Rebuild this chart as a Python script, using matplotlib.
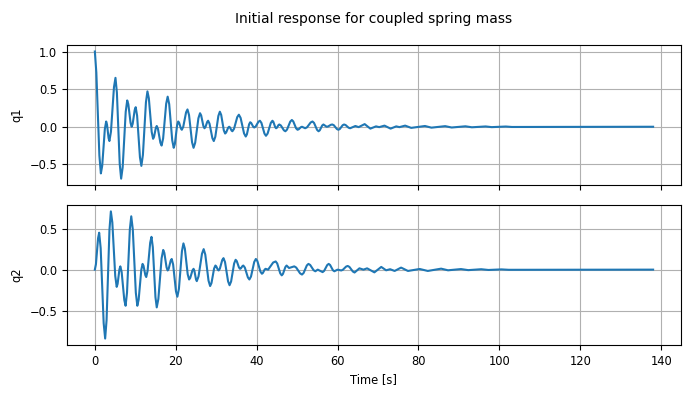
import matplotlib
matplotlib.use("Agg")
import matplotlib.pyplot as plt

# q1 response, values (time [s], value)
t_q1 = [0, 0.37, 1.12, 1.49, 1.82, 2.47, 2.8, 3.0, 3.4, 3.6,
        3.98, 4.73, 5.1, 5.45, 6.15, 6.5, 6.88, 7.63, 8.0, 8.28,
        8.83, 9.1, 9.35, 9.85, 10.1, 10.45, 11.15, 11.5, 11.88, 12.63,
        13.0, 13.35, 14.05, 14.4, 14.63, 15.08, 15.3, 15.6, 16.2, 16.5,
        16.88, 17.63, 18.0, 18.38, 19.13, 19.5, 19.78, 20.33, 20.6, 20.83,
        21.28, 21.5, 21.85, 22.55, 22.9, 23.28, 24.03, 24.4, 24.8, 25.6,
        26.0, 26.28, 26.83, 27.1, 27.33, 27.78, 28.0, 28.35, 29.05, 29.4,
        29.78, 30.53, 30.9, 31.23, 31.88, 32.2, 32.45, 32.95, 33.2, 33.4,
        33.8, 34.0, 34.4, 35.2, 35.6, 36.03, 36.88, 37.3, 37.58, 38.13,
        38.4, 38.65, 39.15, 39.4, 39.75, 40.45, 40.8, 41.18, 41.93, 42.3,
        42.7, 43.5, 43.9, 44.13, 44.58, 44.8, 45.0, 45.4, 45.6, 45.98,
        46.73, 47.1, 47.5, 48.3, 48.7, 49.05, 49.75, 50.1, 50.38, 50.93,
        51.2, 52.0, 52.45, 53.35, 53.8, 54.18, 54.93, 55.3, 55.6, 56.2,
        56.5, 57.3, 57.65, 58.35, 58.7, 59.08, 59.83, 60.2, 60.55, 61.25,
        61.6, 61.98, 62.73, 63.1, 64.4, 65.2, 66.7, 68.1, 69.5, 70.3,
        71.6, 73.1, 74.5, 75.3, 76.7, 78.2, 81.6, 83.2, 86.6, 88.2,
        91.6, 93.2, 96.6, 98.1, 101.6, 103.1, 138.0]
q1 = [1.0, 0.72, -0.383, -0.62, -0.519, -0.031, 0.07, 0.032, -0.152, -0.19,
      -0.067, 0.527, 0.65, 0.454, -0.494, -0.69, -0.538, 0.198, 0.35, 0.299,
      0.051, 0.0, 0.038, 0.222, 0.26, 0.146, -0.406, -0.52, -0.375, 0.325,
      0.47, 0.378, -0.068, -0.16, -0.135, -0.015, 0.01, -0.028, -0.212, -0.25,
      -0.155, 0.305, 0.40, 0.301, -0.181, -0.28, -0.229, 0.019, 0.07, 0.054,
      -0.024, -0.04, -0.001, 0.191, 0.23, 0.156, -0.206, -0.28, -0.213, 0.113,
      0.18, 0.151, 0.009, -0.02, -0.005, 0.065, 0.08, 0.041, -0.151, -0.19,
      -0.133, 0.143, 0.20, 0.158, -0.048, -0.09, -0.077, -0.013, 0.0, -0.009,
      -0.051, -0.06, -0.028, 0.128, 0.16, 0.118, -0.088, -0.13, -0.102, 0.032,
      0.06, 0.05, 0.0, -0.01, 0.003, 0.067, 0.08, 0.051, -0.091, -0.12,
      -0.091, 0.051, 0.08, 0.065, -0.005, -0.02, -0.013, 0.023, 0.03, 0.017,
      -0.047, -0.06, -0.038, 0.068, 0.09, 0.071, -0.021, -0.04, -0.034, -0.006,
      0.0, -0.02, -0.007, 0.057, 0.07, 0.051, -0.041, -0.06, -0.047, 0.017,
      0.03, 0.0, 0.004, 0.026, 0.03, 0.02, -0.03, -0.04, -0.03, 0.02,
      0.03, 0.023, -0.013, -0.02, 0.01, -0.005, 0.035, -0.025, 0.005, -0.005,
      0.015, -0.025, 0.005, -0.005, 0.015, -0.015, 0.01, -0.012, 0.008, -0.01,
      0.006, -0.007, 0.004, -0.005, 0.003, -0.003, 0.0]

# q2 response
t_q2 = [0, 0.27, 0.8, 1.07, 1.44, 2.18, 2.55, 2.9, 3.61, 3.96,
        4.32, 5.04, 5.4, 5.63, 6.08, 6.3, 6.63, 7.28, 7.6, 7.95,
        8.65, 9.0, 9.38, 10.13, 10.5, 10.83, 11.48, 11.8, 12.03, 12.48,
        12.7, 13.03, 13.68, 14.0, 14.33, 14.98, 15.3, 15.7, 16.5, 16.9,
        17.18, 17.73, 18.0, 18.25, 18.75, 19.0, 19.35, 20.05, 20.4, 20.78,
        21.53, 21.9, 22.25, 22.95, 23.3, 23.58, 24.13, 24.4, 24.6, 25.0,
        25.2, 25.63, 26.48, 26.9, 27.3, 28.1, 28.5, 28.83, 29.48, 29.8,
        30.0, 30.4, 30.6, 30.9, 31.5, 31.8, 32.18, 32.93, 33.3, 33.68,
        34.43, 34.8, 35.08, 35.63, 35.9, 36.1, 36.5, 36.7, 37.08, 37.83,
        38.2, 38.6, 39.4, 39.8, 40.18, 40.93, 41.3, 41.53, 41.98, 42.2,
        42.83, 44.08, 44.7, 45.08, 45.83, 46.2, 46.5, 47.1, 47.4, 48.0,
        49.3, 49.78, 50.73, 51.2, 51.6, 52.4, 52.8, 53.23, 54.08, 54.5,
        55.1, 56.3, 56.68, 57.43, 57.8, 58.15, 58.85, 59.2, 60.0, 60.9,
        61.3, 62.1, 62.5, 62.93, 63.78, 64.2, 65.4, 66.4, 67.3, 69.1,
        70.8, 72.0, 73.0, 74.1, 75.7, 77.4, 80.3, 82.3, 85.6, 87.3,
        90.5, 92.3, 95.5, 97.3, 100.5, 102.3, 138.0]
q2 = [0.0, 0.066, 0.384, 0.45, 0.262, -0.652, -0.84, -0.614, 0.484, 0.71,
      0.576, -0.076, -0.21, -0.173, 0.004, 0.04, -0.03, -0.37, -0.44, -0.281,
      0.491, 0.65, 0.491, -0.281, -0.44, -0.366, -0.004, 0.07, 0.047, -0.067,
      -0.09, -0.018, 0.328, 0.40, 0.274, -0.334, -0.46, -0.358, 0.138, 0.24,
      0.204, 0.027, -0.01, 0.01, 0.11, 0.13, 0.063, -0.263, -0.33, -0.235,
      0.225, 0.32, 0.256, -0.056, -0.12, -0.101, -0.009, 0.01, -0.012, -0.118,
      -0.14, -0.083, 0.193, 0.25, 0.184, -0.134, -0.20, -0.164, 0.014, 0.05,
      0.041, -0.001, -0.01, 0.012, 0.118, 0.14, 0.092, -0.142, -0.19, -0.145,
      0.075, 0.12, 0.104, 0.026, 0.01, 0.016, 0.044, 0.05, 0.025, -0.095,
      -0.12, -0.084, 0.094, 0.13, 0.104, -0.024, -0.05, -0.041, 0.001, 0.01,
      0.0, 0.087, 0.10, 0.075, -0.045, -0.07, -0.052, 0.032, 0.05, 0.02,
      0.04, 0.025, -0.045, -0.06, -0.041, 0.051, 0.07, 0.057, -0.007, -0.02,
      0.0, -0.03, -0.015, 0.055, 0.07, 0.057, -0.007, -0.02, 0.0, -0.01,
      -0.002, 0.037, 0.045, 0.033, -0.023, -0.035, 0.016, 0.0, 0.016, -0.033,
      0.033, -0.008, 0.005, -0.016, 0.025, -0.016, 0.008, -0.016, 0.012, -0.008,
      0.007, -0.006, 0.005, -0.004, 0.003, -0.002, 0.0]

fig, (ax1, ax2) = plt.subplots(2, 1, sharex=True, figsize=(6.9, 3.96), dpi=100)
fig.subplots_adjust(left=0.097, right=0.987, top=0.886, bottom=0.129, hspace=0.143)

ax1.plot(t_q1, q1, color='C0', lw=1.5)
ax2.plot(t_q2, q2, color='C0', lw=1.5)

for ax, name in ((ax1, 'q1'), (ax2, 'q2')):
    ax.grid(True)
    ax.set_ylabel(name, fontsize=8.3)
    ax.tick_params(labelsize=8.3)

ax1.set_yticks([-0.5, 0.0, 0.5, 1.0])
ax2.set_yticks([-0.5, 0.0, 0.5])
ax2.set_xlabel('Time [s]', fontsize=8.3)
# title is centred over the axes, not the figure
fig.suptitle('Initial response for coupled spring mass', fontsize=10, x=0.542, y=0.97)

fig.savefig('out.png')
